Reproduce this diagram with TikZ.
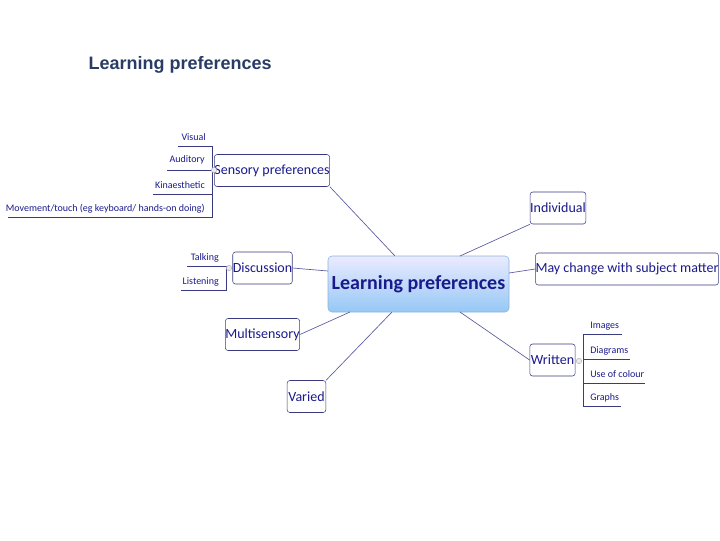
\documentclass[tikz,border=0pt]{standalone}
\usepackage{fontspec}
\setmainfont{Carlito}
\newfontfamily\titlefont{Liberation Sans}
\begin{document}
\begin{tikzpicture}[x=0.75pt,y=-0.75pt,
  txt/.style={text=navytext},
  box/.style={draw=boxline,rounded corners=2pt,fill=white,text=navytext,font=\fontsize{10.5}{12}\selectfont,inner sep=0pt,minimum height=24pt},
  leaf/.style={text=navytext,font=\fontsize{7.5}{9}\selectfont,inner sep=0pt,anchor=base},
  uline/.style={draw=boxline,line width=0.7pt},
  conn/.style={draw=connline,line width=0.5pt},
  knob/.style={circle,draw=gray!60,fill=gray!15,inner sep=0pt,minimum size=4pt}]
\definecolor{navytext}{HTML}{1A1A8C}
\definecolor{boxline}{HTML}{3A3A80}
\definecolor{connline}{HTML}{5A5AA0}
\useasboundingbox (0,0) rectangle (720,540);
\node[anchor=west,font=\titlefont\bfseries\fontsize{13.5}{16}\selectfont,text={rgb,255:red,40;green,60;blue,100}] (title) at (84,65) {Learning preferences};
% center
\path[top color=blue!8,bottom color={rgb,255:red,150;green,200;blue,245},draw={rgb,255:red,140;green,180;blue,220},rounded corners=3pt] (328,256) rectangle (509,312);
\node[font=\bfseries\fontsize{15}{18}\selectfont,text=navytext] (c) at (418.5,284) {Learning preferences};
\coordinate (cNW) at (395,256); \coordinate (cNE) at (460,256);
\coordinate (cW) at (328,271); \coordinate (cE) at (509,273);
\coordinate (cSW) at (350,312); \coordinate (cSW2) at (392,312); \coordinate (cSE) at (460,312);
% boxes
\node[box,minimum width=81pt] (s) at (272,170.5) {Sensory preferences};
\node[box,minimum width=40pt] (i) at (558,208) {Individual};
\node[box,minimum width=124pt] (m) at (627,269) {May change with subject matter};
\node[box,minimum width=44pt] (d) at (262.5,268) {Discussion};
\node[box,minimum width=52pt] (ms) at (262.5,334.5) {Multisensory};
\node[box,minimum width=29pt] (v) at (306.5,396.5) {Varied};
\node[box,minimum width=34pt] (w) at (552.5,360) {Written};
% connectors
\draw[conn] (cNW) -- (s.south east);
\draw[conn] (cNE) -- (i.south west);
\draw[conn] (cE) -- (m.west);
\draw[conn] (cW) -- (d.east);
\draw[conn] (cSW) -- (ms.east);
\draw[conn] (cSW2) -- (v.north east);
\draw[conn] (cSE) -- (w.west);
% sensory leaves
\node[leaf,anchor=base east] (l1) at (206,140) {Visual};
\node[leaf,anchor=base east] (l2) at (205,162) {Auditory};
\node[leaf,anchor=base east] (l3) at (205,188) {Kinaesthetic};
\node[leaf,anchor=base east] (l4) at (205,211) {Movement/touch (eg keyboard/ hands-on doing)};
\coordinate (v1) at (212,146); \coordinate (v4) at (212,217);
\draw[uline] (178,146) -- (v1) -- (v4) -- (8,217);
\draw[uline] (167,170) -- (212,170);
\draw[uline] (153,194) -- (212,194);
\node[knob] (k1) at (214,170) {};
% discussion leaves
\node[leaf,anchor=base east] (t1) at (219,260) {Talking};
\node[leaf,anchor=base east] (t2) at (219,284) {Listening};
\draw[uline] (187,266) -- (226,266) -- (226,290) -- (181,290);
\node[knob] (k2) at (229,268) {};
% written leaves
\node[leaf,anchor=base west] (w1) at (590,328) {Images};
\node[leaf,anchor=base west] (w2) at (590,353) {Diagrams};
\node[leaf,anchor=base west] (w3) at (590,377) {Use of colour};
\node[leaf,anchor=base west] (w4) at (590,400) {Graphs};
\draw[uline] (622,334) -- (583,334) -- (583,406) -- (621,406);
\draw[uline] (583,359) -- (630,359);
\draw[uline] (583,383) -- (645,383);
\node[knob] (k3) at (579,361) {};
\end{tikzpicture}
\end{document}
